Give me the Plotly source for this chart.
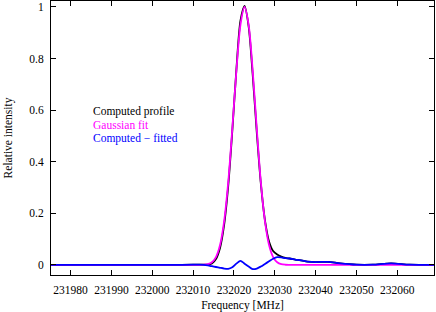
import plotly.graph_objects as go

# Frequency grid [MHz]
freq = [231975, 231980, 231985, 231990, 231995, 232000, 232005, 232010,
        232011.6, 232012.6, 232013.6, 232014.6, 232015.6, 232016.6, 232017.6,
        232018.6, 232019.6, 232020.6, 232021.6, 232022.6, 232023.6, 232024.6,
        232025.6, 232026.6, 232027.6, 232028.6, 232029.6, 232030.6, 232031.6,
        232032.6, 232033.6, 232035, 232038, 232040, 232043, 232046, 232050,
        232054, 232058.5, 232063, 232069]

computed = [0.0, 0.0, 0.0, 0.0, 0.0, 0.0, 0.0, 0.001,
            0.001, 0.001, 0.001, 0.006, 0.023, 0.066, 0.155,
            0.305, 0.518, 0.757, 0.947, 1.004, 0.925, 0.736,
            0.513, 0.314, 0.173, 0.091, 0.054, 0.040, 0.032,
            0.027, 0.025, 0.021, 0.013, 0.011, 0.012, 0.006, 0.001,
            0.001, 0.006, 0.001, 0.0]

gauss = [0.0, 0.0, 0.0, 0.0, 0.0, 0.0, 0.0, 0.0,
         0.0002, 0.0008, 0.0031, 0.0105, 0.0305, 0.077, 0.169,
         0.320, 0.527, 0.752, 0.931, 1.0, 0.931, 0.752,
         0.527, 0.320, 0.169, 0.077, 0.0305, 0.0105, 0.0031,
         0.0008, 0.0002, 0.0, 0.0, 0.0, 0.0, 0.0, 0.0,
         0.0, 0.0, 0.0, 0.0]

residual = [0.0, 0.0, 0.0, 0.0, 0.0, 0.0, 0.0, 0.001,
            0.001, 0.000, -0.002, -0.005, -0.008, -0.011, -0.014,
            -0.015, -0.009, 0.005, 0.016, 0.005, -0.006, -0.016,
            -0.014, -0.006, 0.004, 0.014, 0.024, 0.030, 0.029,
            0.026, 0.025, 0.021, 0.013, 0.011, 0.012, 0.006, 0.001,
            0.001, 0.006, 0.001, 0.0]

x_ticks = [231980, 231990, 232000, 232010, 232020, 232030, 232040, 232050, 232060]
y_ticks = [0, 0.2, 0.4, 0.6, 0.8, 1]
legend_items = [("Computed profile", "#000000"),
                ("Gaussian fit", "#ff00ff"),
                ("Computed \u2212 fitted", "#0000ff")]

FONT = "Liberation Serif, Times New Roman, serif"
FS = 11.5

fig = go.Figure()
fig.add_trace(go.Scatter(x=freq, y=computed, mode="lines",
                         line=dict(color="#000000", width=1.8, shape="spline", smoothing=0.8),
                         showlegend=False))
fig.add_trace(go.Scatter(x=freq, y=gauss, mode="lines",
                         line=dict(color="#ff00ff", width=1.8, shape="spline", smoothing=0.8),
                         showlegend=False))
fig.add_trace(go.Scatter(x=freq, y=residual, mode="lines",
                         line=dict(color="#0000ff", width=1.8, shape="spline", smoothing=0.8),
                         showlegend=False))

for i, (txt, col) in enumerate(legend_items):
    fig.add_annotation(x=0.104, y=0.593 - i * 0.052, xref="paper", yref="y",
                       text=txt, showarrow=False, xanchor="left", yanchor="middle",
                       font=dict(family=FONT, size=FS, color=col))

axis_common = dict(showline=True, linecolor="black", linewidth=1, mirror="ticks",
                   ticks="inside", ticklen=5, tickcolor="black", tickwidth=1,
                   showgrid=False, zeroline=False, automargin=False,
                   tickfont=dict(family=FONT, size=FS, color="black"))

fig.update_xaxes(range=[231975.2, 232069], tickvals=x_ticks,
                 ticktext=[str(v) for v in x_ticks], ticklabelstandoff=4,
                 title=dict(text="Frequency [MHz]", font=dict(family=FONT, size=FS, color="black"),
                            standoff=9),
                 **axis_common)
fig.update_yaxes(range=[-0.039, 1.023], tickvals=y_ticks,
                 ticktext=["0", "0.2", "0.4", "0.6", "0.8", "1"], ticklabelstandoff=4,
                 title=dict(text="Relative intensity", font=dict(family=FONT, size=FS, color="black"),
                            standoff=14),
                 **axis_common)

fig.update_layout(width=436, height=312, margin=dict(l=51, r=2, t=1, b=37),
                  paper_bgcolor="white", plot_bgcolor="white", showlegend=False)

fig.write_html("out.html", config={"displayModeBar": False},
               post_script="document.body.style.margin='0';document.body.style.overflow='hidden';")
